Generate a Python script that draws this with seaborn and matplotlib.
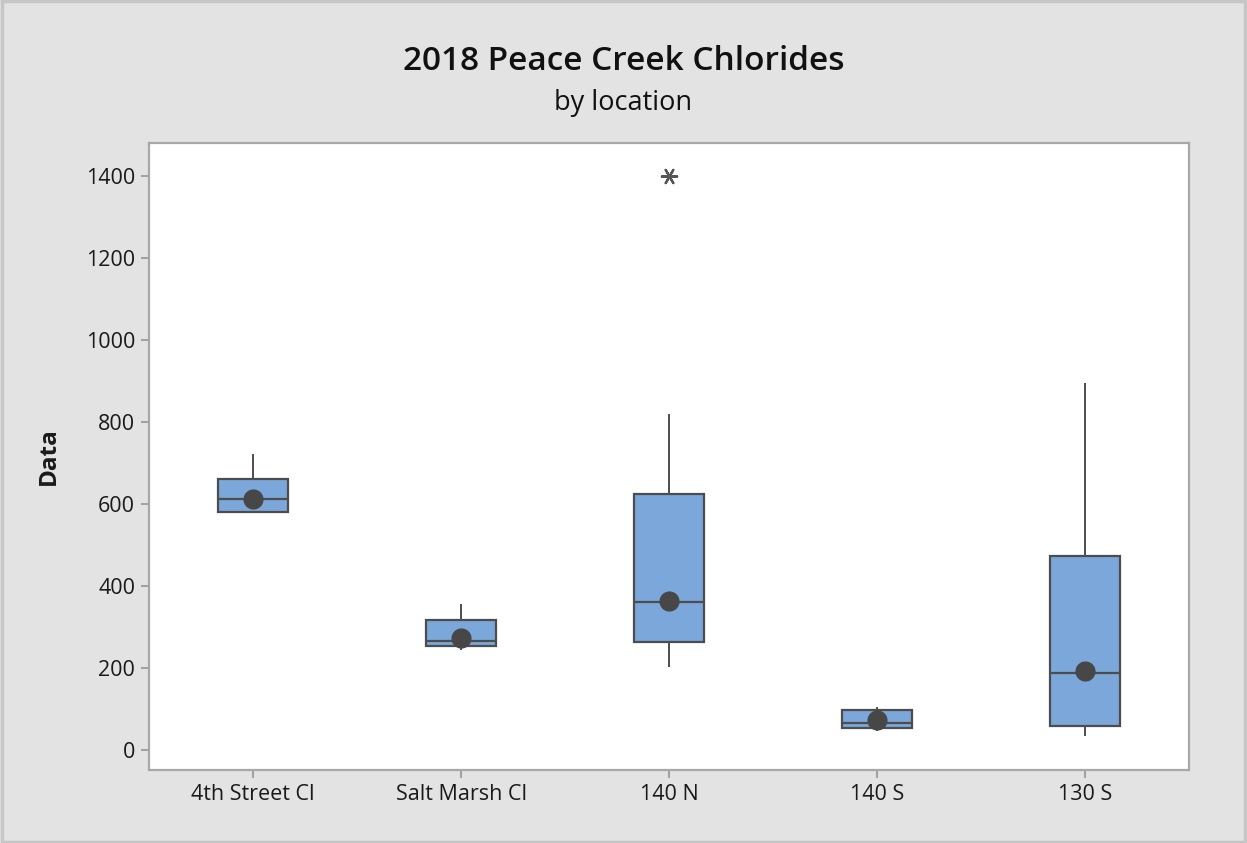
import numpy as np
import pandas as pd
import matplotlib
matplotlib.use("Agg")
import matplotlib.pyplot as plt
from matplotlib.patches import Rectangle
import seaborn as sns

# Chloride box-plot summaries by sampling location
locations = ["4th Street Cl", "Salt Marsh Cl", "140 N", "140 S", "130 S"]
whisker_low = [579, 244, 202, 46, 34]
q1 = [579, 254, 264, 53, 58]
median = [611, 266, 360, 65, 188]
q3 = [660, 317, 624, 98, 473]
whisker_high = [721, 356, 820, 104, 895]
means = [612, 274, 364, 72, 193]
outlier_locations = ["140 N"]
outlier_values = [1400]
y_ticks = [0, 200, 400, 600, 800, 1000, 1200, 1400]

# Five-number points per location; quartiles of these reproduce each box
rows = []
for loc, lo, a, m, b, hi in zip(locations, whisker_low, q1, median, q3, whisker_high):
    for v in (lo, a, m, b, hi):
        rows.append({"Location": loc, "Data": v})
box_df = pd.DataFrame(rows)
mean_df = pd.DataFrame({"Location": locations, "Data": means})
out_df = pd.DataFrame({"Location": outlier_locations, "Data": outlier_values})

sns.set_theme(style="white")
plt.rcParams["font.family"] = ["Open Sans", "DejaVu Sans"]

bg = "#e3e3e3"
edge = "#4d4d4d"
fig = plt.figure(figsize=(12.47, 8.43), dpi=100, facecolor=bg)
ax = fig.add_axes([0.1195, 0.0866, 0.834, 0.7438])
ax.set_facecolor("white")

sns.boxplot(
    data=box_df, x="Location", y="Data", order=locations, ax=ax,
    color="#7ba7da", saturation=1, width=0.34, whis=(0, 100),
    showcaps=False, showfliers=False, linecolor=edge, linewidth=1.6,
    medianprops=dict(color=edge, linewidth=1.6),
    whiskerprops=dict(color=edge, linewidth=1.4),
    boxprops=dict(edgecolor=edge, linewidth=1.6),
)
sns.stripplot(
    data=mean_df, x="Location", y="Data", order=locations, ax=ax,
    jitter=False, color="#474747", size=14.5, linewidth=0, zorder=5,
)
sns.stripplot(
    data=out_df, x="Location", y="Data", order=locations, ax=ax,
    jitter=False, color="#555555", marker=(6, 2, 90), size=11,
    linewidth=1.6, edgecolor="#555555", zorder=5,
)

ax.set_xlim(-0.5, 4.5)
ax.set_ylim(-49, 1480)
ax.set_yticks(y_ticks)
ax.set_yticklabels([str(t) for t in y_ticks])
ax.set_xlabel("")
ax.set_ylabel("Data", fontsize=17.5, fontweight="bold", color="#1a1a1a", labelpad=18)

for s in ax.spines.values():
    s.set_visible(True)
    s.set_color("#a8a8a8")
    s.set_linewidth(1.6)
ax.tick_params(axis="both", which="major", direction="out", length=6, width=1.3,
               color="#9a9a9a", labelsize=15.5, labelcolor="#1a1a1a", pad=4,
               left=True, bottom=True)

fig.text(0.5, 1 - 62 / 843, "2018 Peace Creek Chlorides", ha="center", va="center",
         fontsize=24, fontweight="semibold", color="#111111")
fig.text(0.5, 1 - 103 / 843, "by location", ha="center", va="center",
         fontsize=19.5, color="#111111")

fig.patches.append(Rectangle((0.0015, 0.0015), 0.997, 0.997, transform=fig.transFigure,
                             fill=False, edgecolor="#c6c6c6", linewidth=2.5))

fig.savefig("out.png", dpi=100, facecolor=bg)
